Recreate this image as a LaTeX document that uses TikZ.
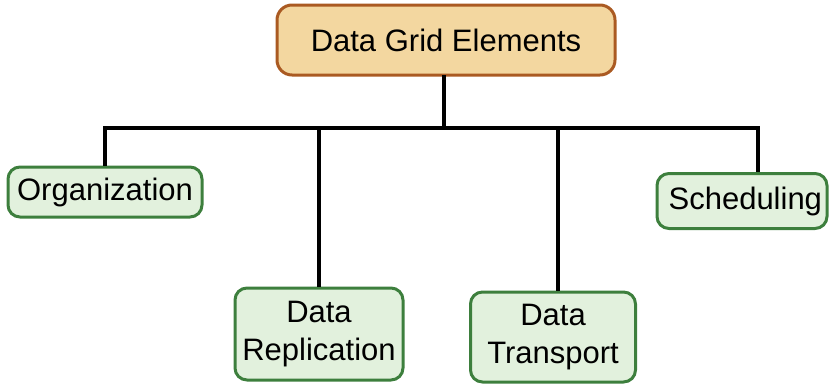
\documentclass[tikz,border=0pt]{standalone}
\usepackage{fontspec}
\setmainfont{Liberation Sans}
\definecolor{rootfill}{HTML}{F3D7A0}
\definecolor{rootline}{HTML}{AA5A22}
\definecolor{leaffill}{HTML}{E2F1DD}
\definecolor{leafline}{HTML}{3D7F3D}
\tikzset{
  rootbox/.style={draw=rootline, fill=rootfill, line width=3pt, rounded corners=15pt,
    inner sep=0pt, font=\fontsize{31}{38}\selectfont},
  leafbox/.style={draw=leafline, fill=leaffill, line width=3pt, rounded corners=12pt,
    inner sep=0pt, align=center, font=\fontsize{31}{38}\selectfont},
  branch/.style={line width=3.5pt, line cap=butt}
}
\begin{document}
\begin{tikzpicture}[x=1pt,y=-1pt]
  \useasboundingbox (0,0) rectangle (829,383);
	\node[rootbox, minimum width=338pt, minimum height=70pt] (root) at (446,40) {Data Grid Elements};
	\node[leafbox, minimum width=194pt, minimum height=50pt] (org) at (105,192) {Organization};
	\node[leafbox, minimum width=168pt, minimum height=92pt] (repl) at (319,334) {Data\\Replication};
	\node[leafbox, minimum width=165pt, minimum height=90pt] (trans) at (553,337) {Data\\Transport};
	\node[leafbox, minimum width=170pt, minimum height=55pt, text width=160pt, align=right] (sched) at (742,201) {Scheduling};
	\coordinate (bus) at (444,128);
	\coordinate (schedtop) at ([xshift=16pt]sched.north);
	\coordinate (transtop) at ([xshift=5pt]trans.north);
	% tree lines
	\draw[branch, line cap=rect] (root.south -| bus) -- (bus);
	\draw[branch] (org.north) -- (org.north |- bus) -- (schedtop |- bus) -- (schedtop);
	\draw[branch] (repl.north) -- (repl.north |- bus);
	\draw[branch] (transtop) -- (transtop |- bus);
\end{tikzpicture}
\end{document}
